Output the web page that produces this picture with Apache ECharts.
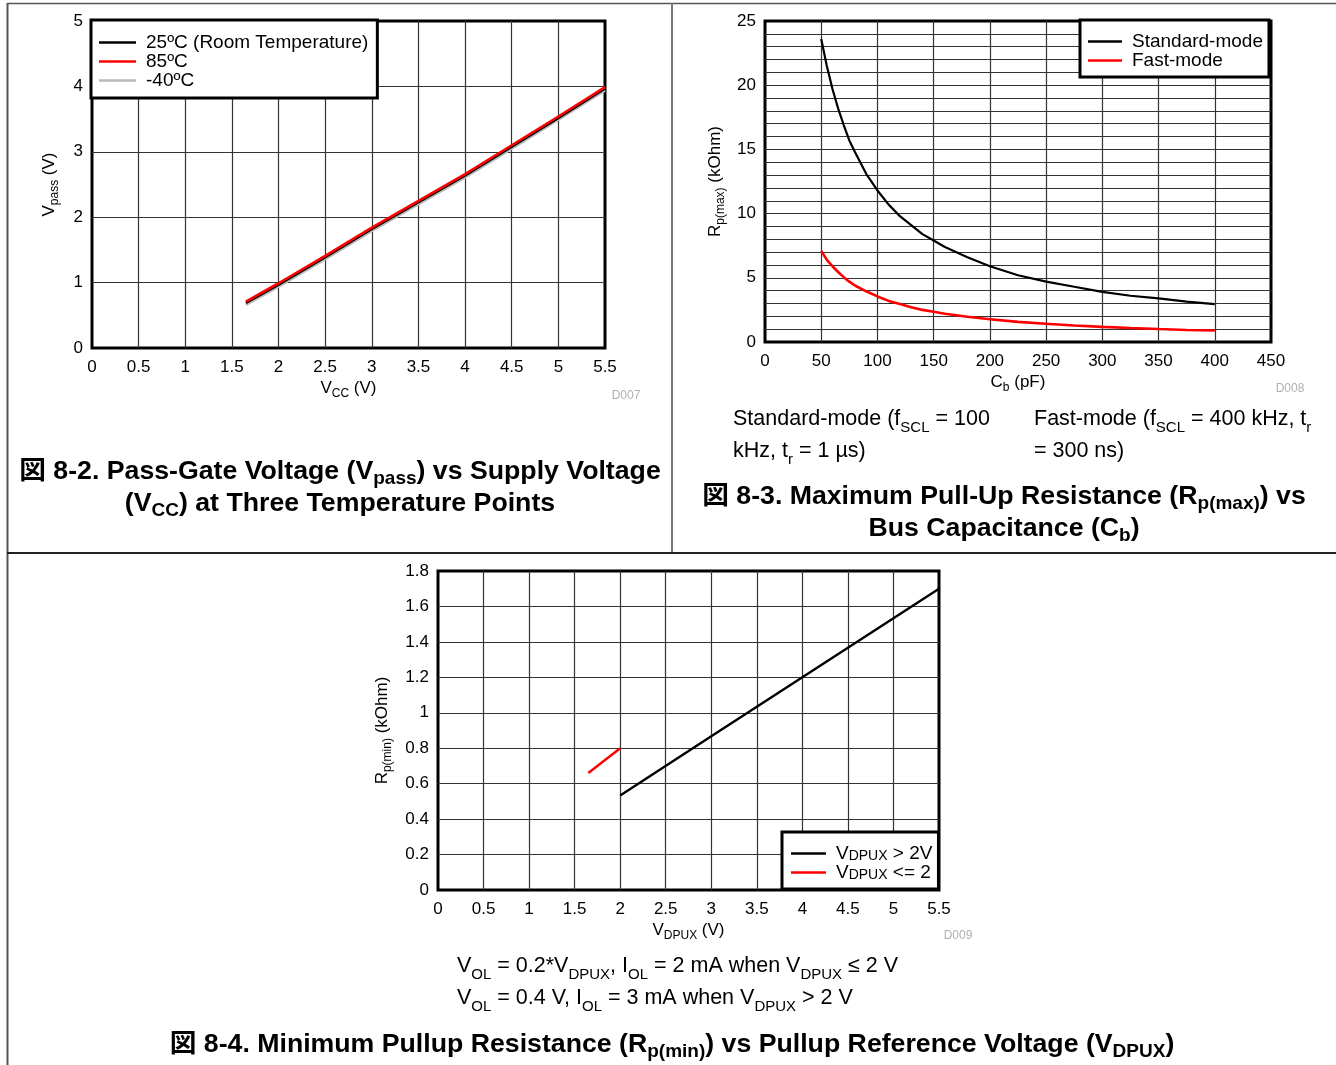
<!DOCTYPE html>
<html><head><meta charset="utf-8">
<script src="https://cdn.jsdelivr.net/npm/echarts@6/dist/echarts.min.js"></script>
<style>html,body{margin:0;padding:0;background:#fff}#c{width:1336px;height:1065px}</style>
</head><body><div id="c"></div>
<script>
// ---------- Data: Fig 8-2 ----------
const vccX      = [1.65, 2, 2.5, 3, 3.5, 4, 4.5, 5, 5.5];
const vpass85   = [0.71, 0.99, 1.41, 1.84, 2.25, 2.66, 3.10, 3.54, 3.99];
const vpass25   = [0.69, 0.97, 1.39, 1.82, 2.23, 2.64, 3.08, 3.52, 3.97];
const vpassM40  = [0.66, 0.94, 1.36, 1.79, 2.20, 2.61, 3.05, 3.49, 3.94];
// ---------- Data: Fig 8-3 ----------
const cbX       = [50,55,60,65,70,75,80,90,100,110,120,130,140,150,160,180,200,225,250,275,300,325,350,375,400];
const rpStd     = [23.6,21.5,19.7,18.2,16.9,15.7,14.8,13.1,11.8,10.7,9.8,9.1,8.4,7.9,7.4,6.6,5.9,5.2,4.7,4.3,3.9,3.6,3.4,3.15,2.95];
const rpFast    = [7.1,6.4,5.9,5.45,5.05,4.7,4.4,3.95,3.55,3.2,2.95,2.7,2.5,2.35,2.2,1.97,1.77,1.57,1.42,1.29,1.18,1.09,1.01,0.94,0.89];
// ---------- Data: Fig 8-4 ----------
const vdpuxHigh = [2, 3, 4, 5, 5.5];
const rpMinHigh = [0.533, 0.867, 1.2, 1.533, 1.7];
const vdpuxLow  = [1.65, 2];
const rpMinLow  = [0.66, 0.8];
// ---------- Tick labels ----------
const ticks1X = {min:0, max:5.5, interval:0.5};
const ticks1Y = {min:0, max:5, interval:1};
const ticks2X = {min:0, max:450, interval:50};
const ticks2Y = {min:0, max:25, interval:1, labelEvery:5};
const ticks3X = {min:0, max:5.5, interval:0.5};
const ticks3Y = {min:0, max:1.8, interval:0.2};

const FONT = '"Liberation Sans", Arial, "Noto Sans CJK JP", sans-serif';
function richSub(fs, L, off, weight) {
  const sfs = Math.round(fs * 0.72);
  return {
    n: {fontSize: fs, lineHeight: L, fontFamily: FONT, fontWeight: weight, color: '#000'},
    s: {fontSize: sfs, lineHeight: L - 2 * off, verticalAlign: 'bottom', fontFamily: FONT, fontWeight: weight, color: '#000'}
  };
}
const R_AX = richSub(17, 24, 4.5, 'normal');
const R_LEG = richSub(19, 19, 3, 'normal');
const R_NOTE = richSub(21.5, 32, 6, 'normal');
const R_TITLE = richSub(26.7, 32, 6, 'bold');

const pairs = (xs, ys) => xs.map((x, i) => [x, ys[i]]);

function xAx(gi, t, name, nameGap) {
  return {
    type: 'value', gridIndex: gi, min: t.min, max: t.max, interval: t.interval,
    name, nameLocation: 'middle', nameGap, nameTextStyle: {rich: R_AX},
    axisLine: {show: false}, axisTick: {show: false},
    axisLabel: {color: '#000', fontSize: 17, fontFamily: FONT, margin: 11},
    splitLine: {show: true, showMinLine: false, showMaxLine: false, lineStyle: {color: '#333', width: 1.2}}
  };
}
function yAx(gi, t, name, nameGap, fmt) {
  return {
    type: 'value', gridIndex: gi, min: t.min, max: t.max, interval: t.interval,
    name, nameLocation: 'middle', nameGap, nameRotate: 90, nameTextStyle: {rich: R_AX},
    axisLine: {show: false}, axisTick: {show: false},
    axisLabel: {color: '#000', fontSize: 17, fontFamily: FONT, margin: 9, formatter: fmt},
    splitLine: {show: true, showMinLine: false, showMaxLine: false, lineStyle: {color: '#333', width: 1.2}}
  };
}
function gridBox(left, top, width, height) {
  return {left, top, width, height, show: true, borderColor: '#000', borderWidth: 3, backgroundColor: '#fff', containLabel: false, outerBoundsMode: 'none'};
}
function line(name, xi, color, data, w) {
  return {name, type: 'line', xAxisIndex: xi, yAxisIndex: xi, data, showSymbol: false, symbol: 'none',
    color, lineStyle: {color, width: w || 2.6}, emphasis: {disabled: true}, silent: true};
}
function legendBox(left, top, names, padding, itemWidth) {
  return {
    data: names, left, top, orient: 'vertical', padding, itemGap: 0, itemWidth, itemHeight: 2.5,
    icon: 'rect', selectedMode: false, backgroundColor: '#fff', borderColor: '#000', borderWidth: 3,
    textStyle: {fontSize: 19, lineHeight: 19, fontFamily: FONT, color: '#000', padding: [0, 0, 0, 5], rich: R_LEG},
    formatter: n => n
  };
}

const L25 = '{n|25ºC (Room Temperature)}', L85 = '{n|85ºC}', LM40 = '{n|-40ºC}';
const LSTD = '{n|Standard-mode}', LFAST = '{n|Fast-mode}';
const LHI = '{n|V}{s|DPUX}{n| > 2V}', LLO = '{n|V}{s|DPUX}{n| <= 2}';

const option = {
  animation: false,
  backgroundColor: '#fff',
  grid: [gridBox(92, 21, 513, 327), gridBox(765, 21, 506, 321), gridBox(438, 571, 501, 319)],
  xAxis: [
    xAx(0, ticks1X, '{n|V}{s|CC}{n| (V)}', 28),
    xAx(1, ticks2X, '{n|C}{s|b}{n| (pF)}', 28),
    xAx(2, ticks3X, '{n|V}{s|DPUX}{n| (V)}', 28)
  ],
  yAxis: [
    yAx(0, ticks1Y, '{n|V}{s|pass}{n| (V)}', 31),
    yAx(1, ticks2Y, '{n|R}{s|p(max)}{n| (kOhm)}', 38, v => (v % ticks2Y.labelEvery === 0 ? String(v) : '')),
    yAx(2, ticks3Y, '{n|R}{s|p(min)}{n| (kOhm)}', 44, v => String(+v.toFixed(1)))
  ],
  legend: [
    legendBox(91, 20, [L25, L85, LM40], [13, 9, 8, 8], 37),
    legendBox(1080, 20, [LSTD, LFAST], [12, 6, 7, 8], 34),
    legendBox(782, 832, [LHI, LLO], [12, 6, 7, 9], 35)
  ],
  series: [
    line(LM40, 0, '#b8b8b8', pairs(vccX, vpassM40)),
    line(L25, 0, '#000000', pairs(vccX, vpass25)),
    line(L85, 0, '#ff0000', pairs(vccX, vpass85)),
    line(LSTD, 1, '#000000', pairs(cbX, rpStd), 2.2),
    line(LFAST, 1, '#ff0000', pairs(cbX, rpFast), 2.6),
    line(LHI, 2, '#000000', pairs(vdpuxHigh, rpMinHigh), 2.4),
    line(LLO, 2, '#ff0000', pairs(vdpuxLow, rpMinLow), 2.4)
  ],
  graphic: [
    {type: 'line', shape: {x1: 7, y1: 3.5, x2: 1336, y2: 3.5}, style: {stroke: '#555', lineWidth: 1.5}, silent: true},
    {type: 'line', shape: {x1: 7.5, y1: 3, x2: 7.5, y2: 1065}, style: {stroke: '#555', lineWidth: 2}, silent: true},
    {type: 'line', shape: {x1: 672, y1: 3, x2: 672, y2: 553}, style: {stroke: '#777', lineWidth: 2}, silent: true},
    {type: 'line', shape: {x1: 7, y1: 553, x2: 1336, y2: 553}, style: {stroke: '#222', lineWidth: 2}, silent: true},
    {type: 'text', x: 626, y: 396, style: {text: 'D007', fill: '#b0b0b0', fontSize: 12, fontFamily: FONT, align: 'center', verticalAlign: 'middle'}, silent: true},
    {type: 'text', x: 1290, y: 389, style: {text: 'D008', fill: '#b0b0b0', fontSize: 12, fontFamily: FONT, align: 'center', verticalAlign: 'middle'}, silent: true},
    {type: 'text', x: 958, y: 936, style: {text: 'D009', fill: '#b0b0b0', fontSize: 12, fontFamily: FONT, align: 'center', verticalAlign: 'middle'}, silent: true},
    {type: 'text', x: 340, y: 488, silent: true, style: {
      text: '{n|図 8-2. Pass-Gate Voltage (V}{s|pass}{n|) vs Supply Voltage}\n{n|(V}{s|CC}{n|) at Three Temperature Points}',
      rich: R_TITLE, align: 'center', verticalAlign: 'middle'}},
    {type: 'text', x: 733, y: 435, silent: true, style: {
      text: '{n|Standard-mode (f}{s|SCL}{n| = 100}\n{n|kHz, t}{s|r}{n| = 1 µs)}',
      rich: R_NOTE, align: 'left', verticalAlign: 'middle'}},
    {type: 'text', x: 1034, y: 435, silent: true, style: {
      text: '{n|Fast-mode (f}{s|SCL}{n| = 400 kHz, t}{s|r}\n{n|= 300 ns)}',
      rich: R_NOTE, align: 'left', verticalAlign: 'middle'}},
    {type: 'text', x: 1004, y: 513, silent: true, style: {
      text: '{n|図 8-3. Maximum Pull-Up Resistance (R}{s|p(max)}{n|) vs}\n{n|Bus Capacitance (C}{s|b}{n|)}',
      rich: R_TITLE, align: 'center', verticalAlign: 'middle'}},
    {type: 'text', x: 457, y: 982, silent: true, style: {
      text: '{n|V}{s|OL}{n| = 0.2*V}{s|DPUX}{n|, I}{s|OL}{n| = 2 mA when V}{s|DPUX}{n| ≤ 2 V}\n{n|V}{s|OL}{n| = 0.4 V, I}{s|OL}{n| = 3 mA when V}{s|DPUX}{n| > 2 V}',
      rich: R_NOTE, align: 'left', verticalAlign: 'middle'}},
    {type: 'text', x: 672, y: 1045, silent: true, style: {
      text: '{n|図 8-4. Minimum Pullup Resistance (R}{s|p(min)}{n|) vs Pullup Reference Voltage (V}{s|DPUX}{n|)}',
      rich: R_TITLE, align: 'center', verticalAlign: 'middle'}}
  ]
};
const chart = echarts.init(document.getElementById('c'), null, {renderer: 'canvas'});
chart.setOption(option);
</script>
</body></html>
